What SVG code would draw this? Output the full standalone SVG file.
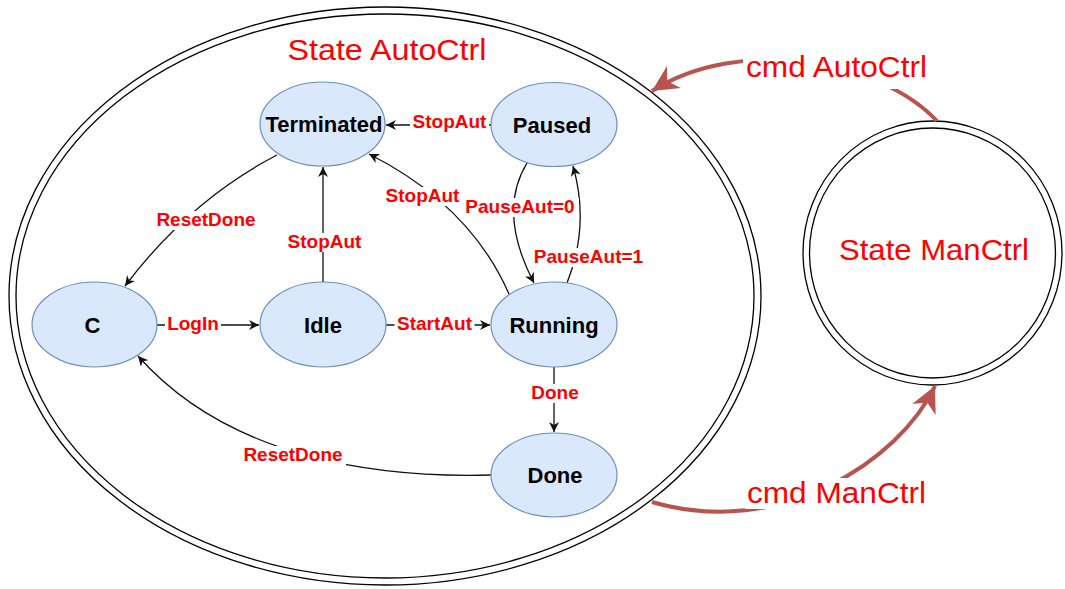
<svg xmlns="http://www.w3.org/2000/svg" width="1065" height="589" viewBox="0 0 1065 589">
<style>
.node{fill:#dae8fc;stroke:#6c8ebf;stroke-width:1.2}
.nl{font-family:"Liberation Sans",Arial,sans-serif;font-weight:bold;font-size:22px;fill:#000;text-anchor:middle}
.el{font-family:"Liberation Sans",Arial,sans-serif;font-weight:bold;font-size:19px;fill:#ff0000;text-anchor:middle}
.big{font-family:"Liberation Sans",Arial,sans-serif;font-size:29px;fill:#ff0000;text-anchor:middle}
.edge{fill:none;stroke:#111;stroke-width:1.3}
.red{fill:none;stroke:#b85450;stroke-width:4}
.bg{fill:#fff}
.ring{fill:none;stroke:#000;stroke-width:1.3}
</style>
<defs>
<marker id="ab" viewBox="0 0 10 10" refX="10" refY="5" markerWidth="12" markerHeight="10" markerUnits="userSpaceOnUse" orient="auto">
<path d="M0,0 L10,5 L0,10 L3,5 z" fill="#111"/>
</marker>
<marker id="ar" viewBox="0 0 10 10" refX="10" refY="5" markerWidth="26" markerHeight="26" markerUnits="userSpaceOnUse" orient="auto">
<path d="M0,0 L10,5 L0,10 L3,5 z" fill="#b85450"/>
</marker>
</defs>
<rect width="1065" height="589" fill="#fff"/>
<g id="state-autoctrl">
<ellipse cx="385" cy="296" rx="376" ry="289" fill="#fff" class="ring"/>
<ellipse cx="385" cy="296" rx="369" ry="282" class="ring"/>
<text class="big" x="387" y="60" textLength="199" lengthAdjust="spacingAndGlyphs">State AutoCtrl</text>
</g>
<g id="state-manctrl">
<ellipse cx="932.5" cy="253" rx="129.5" ry="132" fill="#fff" class="ring"/>
<ellipse cx="932.5" cy="253" rx="123" ry="125" class="ring"/>
<text class="big" x="934" y="260" textLength="190" lengthAdjust="spacingAndGlyphs">State ManCtrl</text>
</g>
<g id="connectors">
<path class="edge" d="M491,125 L386,125" marker-end="url(#ab)"/>
<path class="edge" d="M277,155 Q190,200 125,286" marker-end="url(#ab)"/>
<path class="edge" d="M323,282 L323,167" marker-end="url(#ab)"/>
<path class="edge" d="M157,325 L259,325" marker-end="url(#ab)"/>
<path class="edge" d="M386,325 L490,325" marker-end="url(#ab)"/>
<path class="edge" d="M509,294 Q470,205 369,154" marker-end="url(#ab)"/>
<path class="edge" d="M527,163 Q497,212 534,283" marker-end="url(#ab)"/>
<path class="edge" d="M567,283 Q590,225 573,166" marker-end="url(#ab)"/>
<path class="edge" d="M554,367 L554,432" marker-end="url(#ab)"/>
<path class="edge" d="M491,475 C380,478 230,460 138,356" marker-end="url(#ab)"/>
<path class="red" d="M937,121 C880,60 740,35 652,91" marker-end="url(#ar)"/>
<path class="red" d="M652,502 C780,540 900,460 935,386" marker-end="url(#ar)"/>
<g id="edge-labels">
<rect class="bg" x="410" y="113" width="79" height="19"/><text class="el" x="449.5" y="128">StopAut</text>
<rect class="bg" x="153" y="211" width="106" height="19"/><text class="el" x="206" y="226">ResetDone</text>
<rect class="bg" x="285" y="233" width="79" height="19"/><text class="el" x="324.5" y="248">StopAut</text>
<rect class="bg" x="165" y="315" width="56" height="19"/><text class="el" x="193" y="330">LogIn</text>
<rect class="bg" x="394.5" y="315" width="80" height="19"/><text class="el" x="434.5" y="330">StartAut</text>
<rect class="bg" x="383" y="187" width="79" height="19"/><text class="el" x="422.5" y="202">StopAut</text>
<rect class="bg" x="461" y="198" width="118" height="19"/><text class="el" x="520" y="213">PauseAut=0</text>
<rect class="bg" x="529.5" y="248" width="118" height="19"/><text class="el" x="588.5" y="263">PauseAut=1</text>
<rect class="bg" x="529" y="384" width="52" height="19"/><text class="el" x="555" y="399">Done</text>
<rect class="bg" x="240" y="446" width="106" height="19"/><text class="el" x="293" y="461">ResetDone</text>
<rect class="bg" x="743" y="50" width="187" height="39"/><text class="big" x="836.5" y="77" textLength="181" lengthAdjust="spacingAndGlyphs">cmd AutoCtrl</text>
<rect class="bg" x="745" y="478" width="183" height="31"/><text class="big" x="836.5" y="503" textLength="179" lengthAdjust="spacingAndGlyphs">cmd ManCtrl</text>
</g>
</g>
<g id="node-terminated"><ellipse class="node" cx="322.5" cy="124" rx="62.5" ry="42"/><text class="nl" x="324" y="132">Terminated</text></g>
<g id="node-paused"><ellipse class="node" cx="554" cy="124.5" rx="63" ry="42"/><text class="nl" x="552" y="132.5">Paused</text></g>
<g id="node-c"><ellipse class="node" cx="94.5" cy="324.5" rx="62.5" ry="42.5"/><text class="nl" x="92.5" y="332.5">C</text></g>
<g id="node-idle"><ellipse class="node" cx="323" cy="324.5" rx="63" ry="42.5"/><text class="nl" x="323" y="332.5">Idle</text></g>
<g id="node-running"><ellipse class="node" cx="554" cy="324.5" rx="63" ry="42.5"/><text class="nl" x="554" y="332.5">Running</text></g>
<g id="node-done"><ellipse class="node" cx="554" cy="475" rx="63" ry="42"/><text class="nl" x="555" y="483">Done</text></g>
</svg>
